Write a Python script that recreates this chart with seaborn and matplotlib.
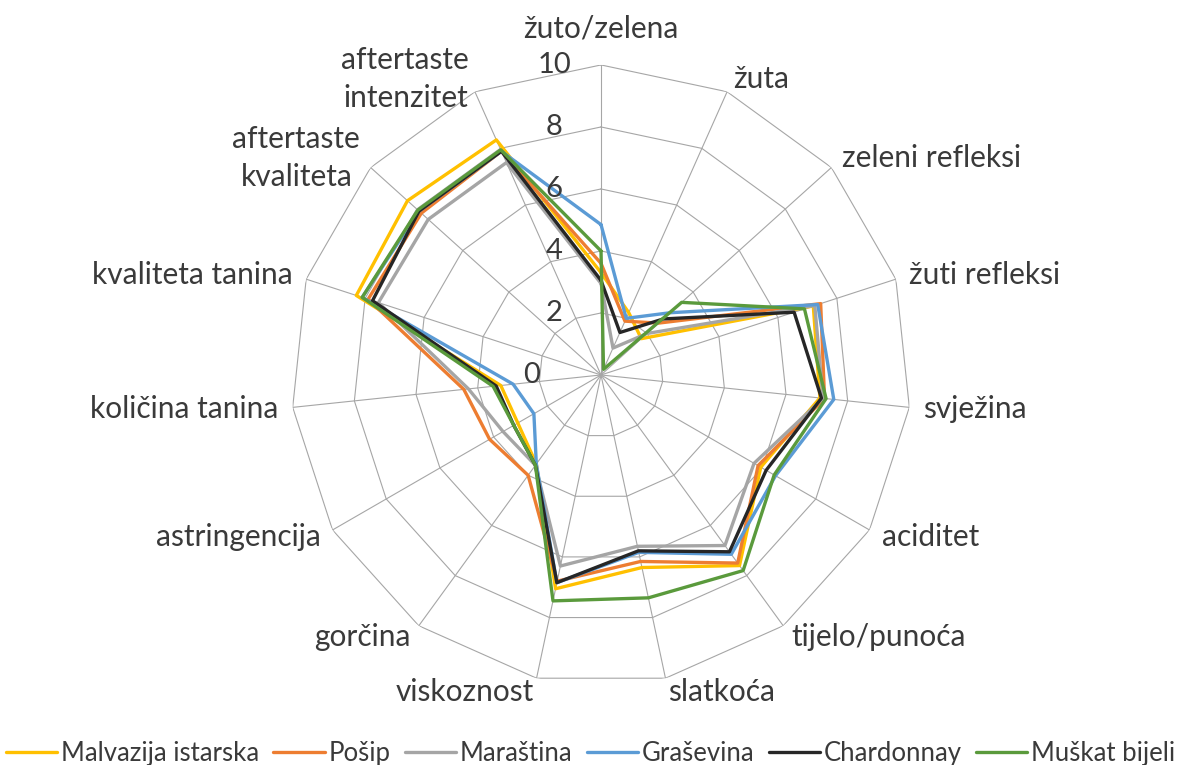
import numpy as np
import pandas as pd
import matplotlib
matplotlib.use("Agg")
import matplotlib.pyplot as plt
import seaborn as sns

# ------------------------------------------------------------
# data (scale 0-10)
# ------------------------------------------------------------
categories = ["žuto/zelena", "žuta", "zeleni refleksi", "žuti refleksi",
              "svježina", "aciditet", "tijelo/punoća", "slatkoća",
              "viskoznost", "gorčina", "astringencija", "količina tanina",
              "kvaliteta tanina", "aftertaste\nkvaliteta",
              "aftertaste\nintenzitet"]

malvazija = [3.3, 2.2, 1.75, 7.2, 7.1, 5.95, 7.6, 6.35, 7.05, 3.55, 3.1, 3.25, 8.3, 8.4, 8.3]
posip = [3.6, 1.9, 2.5, 7.45, 7.25, 5.85, 7.5, 6.15, 6.8, 4.0, 4.15, 4.45, 7.9, 7.8, 7.9]
marastina = [2.95, 0.95, 2.0, 7.25, 7.2, 5.7, 6.8, 5.65, 6.3, 3.6, 3.65, 4.3, 7.55, 7.5, 7.5]
grasevina = [4.85, 2.0, 3.0, 7.35, 7.55, 6.5, 7.15, 5.85, 6.85, 3.55, 2.5, 2.85, 8.1, 7.9, 7.9]
chardonnay = [3.05, 1.5, 2.7, 6.55, 7.15, 6.15, 7.05, 5.8, 6.85, 3.6, 3.25, 3.4, 7.75, 7.9, 7.9]
muskat = [4.0, 0.2, 3.5, 6.9, 7.3, 6.45, 7.8, 7.35, 7.45, 3.6, 3.25, 3.5, 8.1, 7.95, 7.95]

wines = ["Malvazija istarska", "Pošip", "Maraština", "Graševina",
         "Chardonnay", "Muškat bijeli"]
series = [malvazija, posip, marastina, grasevina, chardonnay, muskat]
colors = ["#FFC000", "#ED7D31", "#A5A5A5", "#5B9BD5", "#262626", "#5A9A3C"]

r_ticks = [0, 2, 4, 6, 8, 10]

# ------------------------------------------------------------
# long table for seaborn (polygon closed by repeating first point)
# ------------------------------------------------------------
n = len(categories)
theta = np.pi / 2 - 2 * np.pi * np.arange(n) / n
theta_closed = np.append(theta, theta[0])

rows = []
for wine, vals in zip(wines, series):
    closed = list(vals) + [vals[0]]
    for i, (t, v) in enumerate(zip(theta_closed, closed)):
        rows.append({"wine": wine, "order": i, "theta": t, "value": v})
df = pd.DataFrame(rows)

# ------------------------------------------------------------
# plot
# ------------------------------------------------------------
sns.set_theme(style="white")
plt.rcParams["font.family"] = ["Lato", "DejaVu Sans"]

fig = plt.figure(figsize=(11.81, 7.65), dpi=100)
ax = fig.add_axes([0.2464, 0.1046, 0.525, 0.8105], projection="polar")
ax.grid(False)
ax.set_xticks([])
ax.set_yticks([])
ax.spines["polar"].set_visible(False)
ax.set_facecolor("none")

grid_col = "#A6A6A6"
for r in r_ticks[1:]:
    ax.plot(theta_closed, [r] * (n + 1), color=grid_col, lw=0.8, zorder=1)
for t in theta:
    ax.plot([t, t], [0, r_ticks[-1]], color=grid_col, lw=0.8, zorder=1)

sns.lineplot(data=df, x="theta", y="value", hue="wine", hue_order=wines,
             palette=colors, sort=False, estimator=None, units="wine",
             linewidth=2.4, ax=ax, legend=True, zorder=3)
ax.set_ylim(0, 10)
ax.set_xlabel("")
ax.set_ylabel("")

text_col = "#3A3A3A"

# radial tick labels to the left of the top spoke
for r in r_ticks:
    dx = -47 if r > 0 else -69
    ax.annotate(str(r), xy=(np.pi / 2, r), xytext=(dx, 0),
                textcoords="offset pixels", ha="center", va="center",
                fontsize=21, color=text_col)

# category labels
for t, lab in zip(theta, categories):
    c, s = np.cos(t), np.sin(t)
    if c > 0.1:
        ha = "left"
    elif c < -0.1:
        ha = "right"
    else:
        ha = "center"
    if s > 0.99:
        off, va = 22, "bottom"
    else:
        off, va = 14, "center"
    ax.annotate(lab, xy=(t, 10), xytext=(off * c, off * s),
                textcoords="offset pixels", ha=ha, va=va,
                multialignment="center", linespacing=1.45,
                fontsize=21.5, color=text_col)

handles, labels = ax.get_legend_handles_labels()
ax.get_legend().remove()
fig.legend(handles, labels, loc="lower center", bbox_to_anchor=(0.5, -0.031),
           ncol=6, frameon=False, fontsize=18.5, handlelength=2.0,
           handletextpad=0.15, columnspacing=0.55, labelcolor=text_col)

fig.savefig("out.png", dpi=100, facecolor="white")
